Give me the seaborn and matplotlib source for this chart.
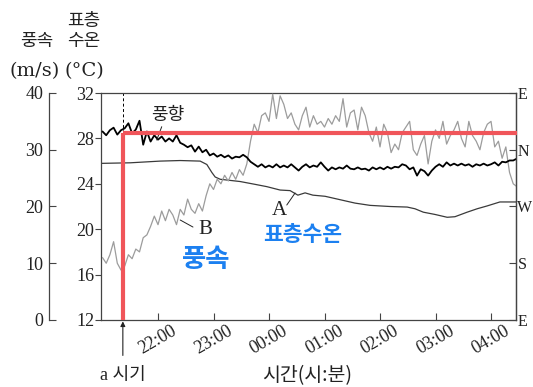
import numpy as np
import matplotlib
matplotlib.use("Agg")
import matplotlib.pyplot as plt
import seaborn as sns

sns.set_style("ticks")
plt.rcParams['font.family'] = ['Liberation Serif', 'Noto Sans CJK KR']

# Clock time in hours: 22 = 22:00, 24 = 00:00 of the next day
time_ticks = [22, 23, 24, 25, 26, 27, 28]
time_labels = ["22:00", "23:00", "00:00", "01:00", "02:00", "03:00", "04:00"]

# Wind records, sampled every 4 minutes from 21:00
sample_hours = 21 + np.arange(113) * 4 / 60
wind_speed = [11.0, 10.0, 11.5, 13.8, 10.0, 8.8, 9.5, 11.5, 10.8, 12.5,
              12.0, 14.5, 15.0, 16.5, 18.3, 16.8, 19.2, 17.5, 19.5, 18.5,
              16.8, 19.5, 18.5, 21.3, 19.5, 18.8, 20.5, 19.2, 21.9, 24.0,
              23.0, 24.8, 24.0, 25.5, 24.5, 26.0, 24.8, 26.5, 25.5, 27.5,
              31.5, 34.5, 33.0, 36.0, 36.5, 35.0, 39.8, 35.5, 39.5, 38.0,
              35.5, 36.5, 34.5, 33.5, 36.0, 37.5, 34.0, 36.0, 34.5, 35.0,
              34.0, 35.5, 34.5, 36.0, 35.0, 39.0, 34.0, 36.5, 37.0, 33.5,
              37.5, 36.0, 33.0, 31.5, 34.0, 30.5, 34.5, 33.0, 29.5, 31.0,
              30.0, 33.0, 34.0, 35.0, 30.0, 29.0, 31.0, 32.5, 27.5, 31.5,
              33.5, 32.0, 35.0, 31.0, 32.5, 33.5, 35.0, 32.0, 30.5, 35.0,
              32.5, 31.5, 30.0, 33.0, 34.5, 35.0, 30.5, 31.5, 28.5, 30.5,
              26.0, 24.0, 23.5]
# Wind direction in degrees (360 = N, 450 = E going clockwise past north)
wind_dir = [389, 383, 391, 395, 384, 391, 394, 402, 386, 392,
            406, 368, 389, 373, 383, 376, 381, 373, 378, 373,
            383, 371, 368, 364, 367, 357, 365, 356, 360, 351,
            354, 349, 352, 348, 351, 346, 349, 348, 352, 348,
            341, 337, 333, 337, 332, 335, 332, 337, 332, 335,
            332, 337, 332, 327, 333, 337, 332, 335, 333, 340,
            333, 327, 332, 329, 332, 330, 335, 330, 329, 332,
            329, 330, 327, 332, 329, 332, 329, 333, 330, 333,
            332, 337, 335, 329, 332, 319, 329, 326, 319, 327,
            333, 337, 333, 340, 335, 338, 335, 338, 335, 337,
            333, 337, 335, 338, 335, 337, 340, 335, 341, 340,
            343, 343, 346]

# Surface water temperature (A)
temp_hours = [20.97, 21.50, 22.04, 22.40, 22.76, 22.88, 22.97, 23.03, 23.12, 23.48,
              23.75, 23.96, 24.20, 24.38, 24.52, 24.65, 24.79, 25.01, 25.28, 25.55,
              25.82, 26.18, 26.49, 26.63, 26.78, 26.99, 27.21, 27.35, 27.57, 27.75,
              27.93, 28.16, 28.45]
surface_temp = [25.8, 25.85, 26.0, 26.05, 26.0, 25.7, 25.0, 24.6, 24.4, 24.2,
                23.95, 23.75, 23.45, 23.4, 23.0, 23.2, 23.0, 22.9, 22.6, 22.3,
                22.1, 22.0, 21.95, 21.8, 21.5, 21.3, 21.05, 21.1, 21.5, 21.8,
                22.05, 22.4, 22.4]

# Moment "a" and the wind direction read at that moment
a_time = 21 + 22 / 60
a_dir = 387

temp_ticks = [12, 16, 20, 24, 28, 32]
speed_ticks = [0, 10, 20, 30, 40]
dir_ticks = [90, 180, 270, 360, 450]
dir_labels = ["E", "S", "W", "N", "E"]

x_min, x_max = 20.973, 28.45
edge = "#444444"
ink = "#222222"
CJK = "Noto Sans CJK KR"
SERIF = "Liberation Serif"

fig = plt.figure(figsize=(5.33, 3.87), dpi=100)
ax = fig.add_axes([101 / 533, 67 / 387, 415 / 533, 227 / 387])

# --- surface temperature axis (main frame) ---
sns.lineplot(x=temp_hours, y=surface_temp, ax=ax, color="#3a3a3a", lw=0.9,
             estimator=None, sort=False)
ax.axvline(a_time, color="black", lw=0.7, ls=(0, (3, 2.5)), zorder=1)
ax.set_xlim(x_min, x_max)
ax.set_ylim(12, 32)
ax.set_yticks(temp_ticks)
ax.set_yticklabels([str(t) for t in temp_ticks], fontsize=13, family=SERIF)
ax.set_xticks(time_ticks)
ax.set_xticklabels(time_labels, fontsize=13, family=SERIF, rotation=30, ha="center")
ax.tick_params(axis="y", direction="out", length=4, width=0.8, pad=1, colors=edge,
               labelcolor=ink)
ax.tick_params(axis="x", direction="in", length=5, width=0.8, pad=2, colors=edge,
               labelcolor=ink)
for s in ax.spines.values():
    s.set_visible(True)
    s.set_color(edge)
    s.set_linewidth(0.9)

# --- wind speed axis, offset to the far left ---
ws = ax.twinx()
sns.lineplot(x=sample_hours, y=wind_speed, ax=ws, color="#9c9c9c", lw=0.9,
             estimator=None, sort=False)
ws.set_ylim(0, 40)
ws.yaxis.set_ticks_position("left")
ws.yaxis.set_label_position("left")
ws.spines["left"].set_position(("axes", -52 / 415))
ws.spines["left"].set_visible(True)
ws.spines["left"].set_color(edge)
ws.spines["left"].set_linewidth(0.9)
for side in ("right", "top", "bottom"):
    ws.spines[side].set_visible(False)
ws.set_yticks(speed_ticks)
ws.set_yticklabels([str(t) for t in speed_ticks], fontsize=13, family=SERIF)
ws.tick_params(axis="y", direction="in", length=5, width=0.8, pad=4, colors=edge,
               labelcolor=ink)
ws.set_ylabel("")

# --- wind direction axis on the right ---
wd = ax.twinx()
sns.lineplot(x=sample_hours, y=wind_dir, ax=wd, color="black", lw=1.3,
             estimator=None, sort=False)
wd.set_ylim(90, 450)
wd.set_yticks(dir_ticks)
wd.set_yticklabels(dir_labels, fontsize=11.5, family=SERIF)
wd.tick_params(axis="y", direction="in", length=5, width=0.8, pad=1, colors=edge,
               labelcolor=ink)
for side in ("left", "top", "bottom"):
    wd.spines[side].set_visible(False)
wd.spines["right"].set_color(edge)
wd.spines["right"].set_linewidth(0.9)
wd.set_ylabel("")
wd.set_xlim(x_min, x_max)

# Red guide: moment a up to its wind direction, then across to the right axis
red = "#f0555a"
wd.plot([a_time, a_time], [90, a_dir], color=red, lw=3, solid_capstyle="butt",
        clip_on=False, zorder=5)
wd.plot([a_time, x_max + 0.02], [a_dir, a_dir], color=red, lw=3,
        solid_capstyle="butt", clip_on=False, zorder=5)

# Series labels with leader lines (temperature coordinates)
tdata = ax.transData
wd.text(22.18, 30.06, "풍향", transform=tdata, family=CJK, fontsize=13,
        ha="center", va="center", color=ink)
wd.plot([22.067, 21.977], [29.03, 27.86], transform=tdata, color=ink, lw=0.7)
wd.text(22.85, 19.93, "B", transform=tdata, family=SERIF, fontsize=15,
        ha="center", va="center", color=ink)
wd.plot([22.63, 22.40], [20.19, 20.81], transform=tdata, color=ink, lw=0.7)
wd.text(24.18, 21.69, "A", transform=tdata, family=SERIF, fontsize=15,
        ha="center", va="center", color=ink)
wd.plot([24.32, 24.47], [22.13, 23.19], transform=tdata, color=ink, lw=0.7)

blue = "#1c80f0"
wd.text(22.865, 17.29, "풍속", transform=tdata, family=CJK, fontsize=19,
        fontweight="bold", ha="center", va="center", color=blue)
wd.text(24.613, 19.49, "표층수온", transform=tdata, family=CJK, fontsize=15.5,
        fontweight="bold", ha="center", va="center", color=blue)

# Moment a marker below the time axis
ax.annotate("a 시기", xy=(a_time, 0), xycoords=("data", "axes fraction"),
            xytext=(0, -40), textcoords="offset points", ha="center", va="center",
            family=[SERIF, CJK], fontsize=13, color=ink,
            arrowprops=dict(arrowstyle="-|>", color=ink, lw=0.8,
                            mutation_scale=7, shrinkA=6, shrinkB=1))

# Axis titles
fig.text(307 / 533, 1 - 376 / 387, "시간(시:분)", family=CJK, fontsize=14,
         ha="center", va="center", color=ink)
fig.text(84 / 533, 1 - 21 / 387, "표층", family=CJK, fontsize=13,
         ha="center", va="center", color=ink)
fig.text(84 / 533, 1 - 41 / 387, "수온", family=CJK, fontsize=13,
         ha="center", va="center", color=ink)
fig.text(37 / 533, 1 - 41 / 387, "풍속", family=CJK, fontsize=13,
         ha="center", va="center", color=ink)
fig.text(35 / 533, 1 - 71 / 387, "(m/s)", family="DejaVu Serif", fontsize=14,
         ha="center", va="center", color=ink)
fig.text(84 / 533, 1 - 71 / 387, "(°C)", family="DejaVu Serif", fontsize=14,
         ha="center", va="center", color=ink)

fig.savefig("out.png", dpi=100)
